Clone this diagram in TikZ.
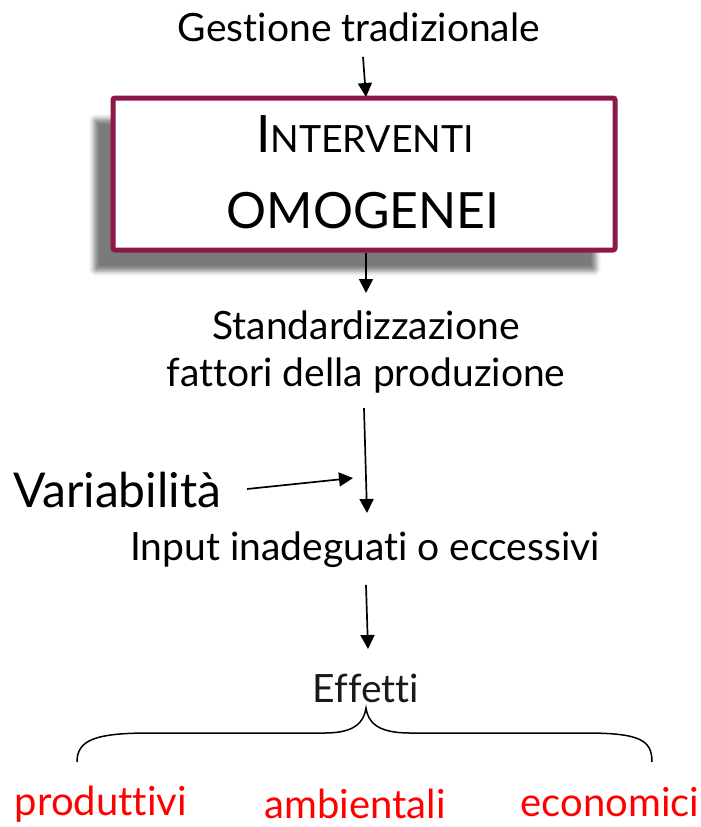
\documentclass[tikz,border=0pt]{standalone}
\usepackage{fontspec}
\setmainfont{Lato}[Ligatures={NoCommon,NoContextual,NoRequired}]
\usetikzlibrary{arrows.meta,shadows.blur}
\definecolor{maroon}{RGB}{140,24,74}
\definecolor{effred}{RGB}{255,0,0}
\tikzset{
  txt/.style={inner sep=0pt, font=\fontsize{39}{47}\selectfont},
  arr/.style={line width=1.7pt, -{Triangle[length=14pt,width=14pt]}},
  redtxt/.style={inner sep=0pt, text=effred, font=\fontsize{40}{44}\selectfont},
}
\begin{document}
\begin{tikzpicture}[x=1pt,y=-1pt]
\useasboundingbox (0,0) rectangle (701,827);
\node[txt] (gest) at (359,27) {Gestione tradizionale};
\node[draw=maroon, line width=5pt, rounded corners=2pt, fill=white, minimum width=502pt, minimum height=152pt, inner sep=0pt,
  blur shadow={shadow xshift=-19pt, shadow yshift=-21pt, shadow blur radius=5pt, shadow opacity=52}] (box) at (364,174) {};
\node[inner sep=0pt, anchor=base] (int) at (365,152) {\fontsize{51.5}{54}\selectfont I\fontsize{37.5}{42}\selectfont NTERVENTI};
\node[inner sep=0pt, anchor=base] (omo) at (363,228) {\fontsize{50}{55}\selectfont OMOGENEI};
\node[txt, align=center] (std) at (366,352) {Standardizzazione\\fattori della produzione};
\node[inner sep=0pt, font=\fontsize{48}{52}\selectfont, anchor=west] (var) at (13,490) {Variabilità};
\node[txt] (inp) at (365,550) {Input inadeguati o eccessivi};
\node[txt, text=black!90] (eff) at (366,688) {Effetti};
\node[redtxt] (prod) at (101,804) {produttivi};
\node[redtxt] (amb) at (355,804) {ambientali};
\node[redtxt] (eco) at (610,802) {economici};
\coordinate (a1s) at (363,57);  \coordinate (a1e) at (366,97);
\coordinate (a2s) at (366,253); \coordinate (a2e) at (366,293);
\coordinate (a3s) at (364,408); \coordinate (a3e) at (367,513);
\coordinate (a4s) at (247,489); \coordinate (a4e) at (353,478);
\coordinate (a5s) at (366,585); \coordinate (a5e) at (368,649);
\coordinate (bl) at (77,762);
\coordinate (br) at (652,762);
\coordinate (tip) at (366,708);
\draw[arr] (a1s) -- (a1e);
\draw[arr] (a2s) -- (a2e);
\draw[arr] (a3s) -- (a3e);
\draw[arr] (a4s) -- (a4e);
\draw[arr] (a5s) -- (a5e);
\draw[line width=1.5pt] (bl) .. controls (77,740) and (95,733) .. (150,733) -- (325,733)
  .. controls (355,733) and (364,722) .. (tip) .. controls (368,722) and (377,733) .. (410,733)
  -- (585,733) .. controls (640,733) and (652,740) .. (br);
\end{tikzpicture}
\end{document}
